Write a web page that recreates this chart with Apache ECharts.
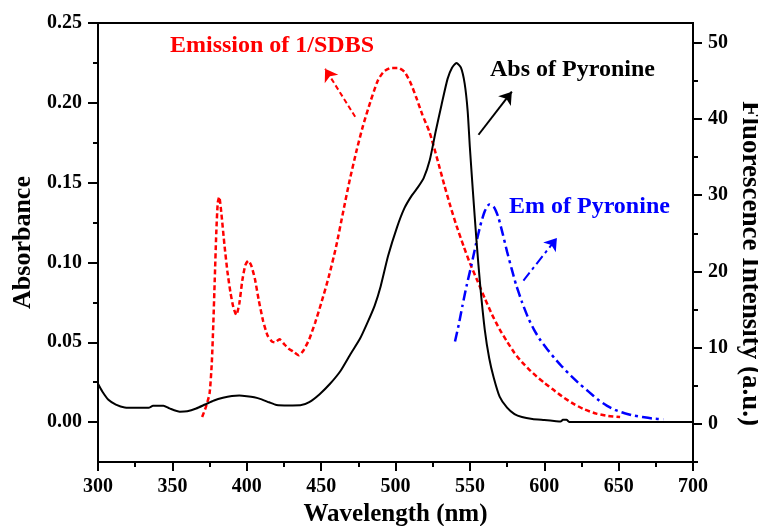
<!DOCTYPE html>
<html>
<head>
<meta charset="utf-8">
<script src="https://cdn.jsdelivr.net/npm/echarts@6/dist/echarts.min.js"></script>
<style>
  html, body { margin: 0; background: #fff; }
  #chart { width: 758px; height: 526px; }
</style>
</head>
<body>
<div id="chart"></div>
<script>
// Abs of Pyronine (left axis)
const absWl = [300, 303, 307, 312, 318, 326, 334, 337, 344, 348, 355, 360, 366, 372, 378, 384, 390, 395, 400, 405, 410, 415, 420, 428, 436, 442, 449, 456, 463, 470, 476, 481, 486, 490, 495, 501, 506, 511, 515, 519, 523, 527, 531, 535, 538, 541, 544, 546.5, 548.5, 550, 552, 554.5, 557, 560, 563, 566, 570, 575, 580, 585, 592, 600, 608, 611, 612.5, 615, 617, 625, 700]
const absVal = [0.024, 0.019, 0.014, 0.011, 0.0092, 0.009, 0.009, 0.0102, 0.0102, 0.0086, 0.0065, 0.0068, 0.0085, 0.011, 0.0135, 0.0152, 0.0163, 0.0166, 0.0162, 0.0155, 0.0142, 0.0124, 0.0107, 0.0104, 0.0105, 0.0125, 0.0175, 0.024, 0.032, 0.043, 0.052, 0.062, 0.073, 0.085, 0.104, 0.122, 0.134, 0.142, 0.147, 0.153, 0.164, 0.182, 0.199, 0.215, 0.222, 0.225, 0.222, 0.212, 0.195, 0.172, 0.145, 0.113, 0.085, 0.058, 0.040, 0.028, 0.016, 0.009, 0.005, 0.0032, 0.002, 0.0013, 0.0006, 0.0004, 0.0014, 0.0014, 0, 0, 0]

// Emission of 1/SDBS (right axis)
const sdbsWl = [370, 372.5, 375, 376.5, 377.5, 378.5, 379.5, 380.5, 381.5, 383, 385, 387, 389, 391, 393, 395, 397, 399, 401, 403, 405.5, 408, 411, 414, 417, 419, 422, 425, 428, 432, 435, 438, 442, 446, 450, 455, 460, 465, 469, 474, 478, 483, 488, 492, 497, 502, 506, 510, 514, 518, 523, 528, 533, 537, 541, 546, 550, 555, 560, 565, 570, 575, 580, 585, 590, 595, 600, 606, 612, 620, 627, 635, 643, 651]
const sdbsVal = [0.9, 2.2, 4, 8, 13, 19, 25, 29, 29.8, 27.5, 23.5, 20, 17.3, 15.3, 14.3, 15.8, 18.8, 20.8, 21.4, 20.8, 19, 16.3, 13.5, 11.6, 10.8, 10.7, 11.1, 10.5, 9.9, 9.4, 9.0, 9.6, 11.1, 13.3, 15.8, 19.2, 23.2, 28, 31.8, 36, 39, 42.2, 45, 46.2, 46.7, 46.7, 46.2, 44.8, 42.8, 40.6, 38.2, 34.8, 31.2, 28.5, 26, 23.2, 21.1, 18.8, 16.5, 14.3, 12.4, 10.8, 9.3, 8.1, 7.1, 6.2, 5.4, 4.5, 3.6, 2.6, 1.9, 1.35, 1.05, 0.9]

// Em of Pyronine (right axis)
const pyrWl = [540, 542.5, 545, 548, 551, 554, 557, 560, 563, 566, 569, 572, 575, 578, 581, 585, 589, 593, 597, 602, 607, 612, 618, 624, 630, 636, 642, 648, 654, 660, 666, 673, 680]
const pyrVal = [10.8, 13, 15.5, 18.3, 20.8, 23.5, 26, 27.9, 28.8, 28.5, 27.2, 25, 22.6, 20.4, 18.3, 16, 14, 12.4, 11.1, 9.8, 8.6, 7.5, 6.3, 5.2, 4.2, 3.2, 2.4, 1.8, 1.4, 1.1, 0.9, 0.7, 0.6]

// arrows: [tail, head] in data coordinates
const sdbsArrow = [[472.9, 40.3], [452.7, 46.6]]
const absArrow = [[555.8, 0.180], [578.2, 0.207]]
const pyrArrow = [[586, 18.8], [608.5, 24.4]]

// tick values
const absTicks = [0, 0.05, 0.10, 0.15, 0.20, 0.25]
const absMinor = [0.025, 0.075, 0.125, 0.175, 0.225]
const flTicks = [0, 10, 20, 30, 40, 50]
const flMinor = [-5, 5, 15, 25, 35, 45]

const zip = (xs, ys) => xs.map((x, i) => [x, ys[i]])

const font = 'Liberation Serif'
const tickText = { fontFamily: font, fontWeight: 'bold', fontSize: 20, color: '#000' }
const axisLine = { show: true, onZero: false, lineStyle: { color: '#000', width: 2 } }

const arrowLine = (pts, color, type) => ({
  silent: true,
  animation: false,
  symbol: ['none', 'arrow'],
  symbolSize: 12,
  label: { show: false },
  emphasis: { disabled: true },
  lineStyle: { color: color, width: 2, type: type },
  data: [[{ coord: pts[0] }, { coord: pts[1] }]]
})

const chart = echarts.init(document.getElementById('chart'))

const option = {
  animation: false,
  backgroundColor: '#fff',
  textStyle: { fontFamily: font },
  grid: {
    left: 98, right: 65, top: 23, bottom: 64,
    outerBoundsMode: 'none',
    show: true, borderColor: '#000', borderWidth: 2, backgroundColor: 'transparent'
  },
  xAxis: {
    type: 'value',
    min: 300, max: 700, interval: 50,
    name: 'Wavelength (nm)',
    nameLocation: 'middle',
    nameGap: 40,
    nameMoveOverlap: false,
    nameTextStyle: { fontFamily: font, fontWeight: 'bold', fontSize: 25, color: '#000' },
    axisLine: axisLine,
    axisTick: { show: true, inside: false, length: 9, lineStyle: { color: '#000', width: 2 } },
    minorTick: { show: true, splitNumber: 2, length: 5, lineStyle: { color: '#000', width: 2 } },
    axisLabel: Object.assign({ margin: 15 }, tickText),
    splitLine: { show: false }
  },
  yAxis: [
    {
      type: 'value', position: 'left',
      min: -0.025, max: 0.25,
      name: 'Absorbance',
      nameLocation: 'middle', nameRotate: 90, nameGap: 62,
      nameMoveOverlap: false,
      nameTextStyle: { fontFamily: font, fontWeight: 'bold', fontSize: 26, color: '#000' },
      axisLine: axisLine,
      axisTick: { show: true, length: 10, customValues: absTicks, lineStyle: { color: '#000', width: 2 } },
      axisLabel: Object.assign({ margin: 16, customValues: absTicks, formatter: v => v.toFixed(2) }, tickText),
      splitLine: { show: false }
    },
    {
      type: 'value', position: 'right',
      min: -5, max: 52.6,
      name: 'Fluorescence Intensity (a.u.)',
      nameLocation: 'middle', nameRotate: -90, nameGap: 43,
      nameMoveOverlap: false,
      nameTextStyle: { fontFamily: font, fontWeight: 'bold', fontSize: 27, color: '#000', padding: [0, 0, 0, 42] },
      axisLine: axisLine,
      axisTick: { show: true, length: 9, customValues: flTicks, lineStyle: { color: '#000', width: 2 } },
      axisLabel: Object.assign({ margin: 15, customValues: flTicks }, tickText),
      splitLine: { show: false }
    },
    {
      type: 'value', position: 'left',
      min: -0.025, max: 0.25,
      axisLine: { show: false },
      axisTick: { show: true, length: 5, customValues: absMinor, lineStyle: { color: '#000', width: 2 } },
      axisLabel: { show: false },
      splitLine: { show: false }
    },
    {
      type: 'value', position: 'right',
      min: -5, max: 52.6,
      axisLine: { show: false },
      axisTick: { show: true, length: 5, customValues: flMinor, lineStyle: { color: '#000', width: 2 } },
      axisLabel: { show: false },
      splitLine: { show: false }
    }
  ],
  series: [
    {
      name: 'Emission of 1/SDBS',
      type: 'line', yAxisIndex: 1,
      data: zip(sdbsWl, sdbsVal),
      showSymbol: false, smooth: 0.2,
      lineStyle: { color: '#ff0000', width: 2.5, type: [5, 3] },
      markLine: arrowLine(sdbsArrow, '#ff0000', [5, 3])
    },
    {
      name: 'Em of Pyronine',
      type: 'line', yAxisIndex: 1,
      data: zip(pyrWl, pyrVal),
      showSymbol: false, smooth: 0.2,
      lineStyle: { color: '#0000ff', width: 2.5, type: [10, 4, 3, 4] },
      markLine: arrowLine(pyrArrow, '#0000ff', [10, 4, 3, 4])
    },
    {
      name: 'Abs of Pyronine',
      type: 'line', yAxisIndex: 0,
      data: zip(absWl, absVal),
      showSymbol: false, smooth: 0.2,
      lineStyle: { color: '#000', width: 2 },
      markLine: arrowLine(absArrow, '#000', 'solid')
    }
  ],
  graphic: [
    { type: 'text', x: 170, y: 46, style: { text: 'Emission of 1/SDBS', fill: '#ff0000', font: 'bold 24px "Liberation Serif"', verticalAlign: 'middle' } },
    { type: 'text', x: 490, y: 70, style: { text: 'Abs of Pyronine', fill: '#000', font: 'bold 24px "Liberation Serif"', verticalAlign: 'middle' } },
    { type: 'text', x: 509, y: 207, style: { text: 'Em of Pyronine', fill: '#0000ff', font: 'bold 24px "Liberation Serif"', verticalAlign: 'middle' } }
  ]
}

chart.setOption(option)

window.addEventListener('resize', () => chart.resize())
</script>
</body>
</html>
